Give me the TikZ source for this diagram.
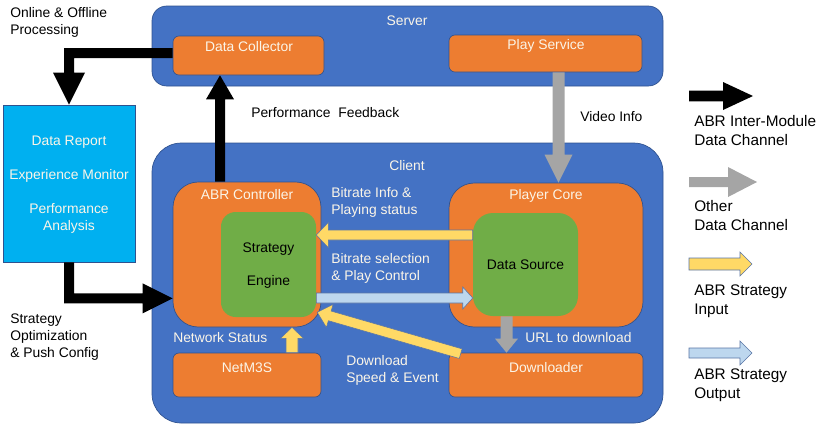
\documentclass[tikz,border=0pt]{standalone}
\usepackage{fontspec}
\setmainfont{Liberation Sans}
\usetikzlibrary{calc,fit}
\definecolor{cblue}{HTML}{4472C4}
\definecolor{cblueb}{HTML}{2F528F}
\definecolor{corange}{HTML}{ED7D31}
\definecolor{cgreen}{HTML}{70AD47}
\definecolor{cyellow}{HTML}{FFD966}
\definecolor{clblue}{HTML}{BDD7EE}
\definecolor{cgray}{HTML}{A5A5A5}
\definecolor{ccyan}{HTML}{00B0F0}
\definecolor{cwt}{HTML}{FBF5E8}
\newcommand\blockarrow[6][]{%
  \coordinate (bas) at (#2);
  \coordinate (bae) at (#3);
  \coordinate (bah) at ($(bae)!#6!(bas)$);
  \draw[#1] ($(bas)!#4!90:(bae)$) -- ($(bah)!#4!90:(bae)$) -- ($(bah)!#5!90:(bae)$)
    -- (bae) -- ($(bah)!#5!-90:(bae)$) -- ($(bah)!#4!-90:(bae)$) -- ($(bas)!#4!-90:(bae)$) -- cycle;}
\tikzset{
  region/.style={fill=cblue, draw=cblueb, line width=0.5pt, inner sep=0pt},
  obox/.style={fill=corange, draw=cblueb, line width=0.5pt, inner sep=0pt},
  gbox/.style={fill=cgreen, draw=none, inner sep=0pt},
  cbox/.style={fill=ccyan, draw=cblueb, line width=0.5pt, inner sep=0pt},
  wtxt/.style={text=cwt, font=\fontsize{10.4}{12.75}\selectfont, inner sep=0pt, align=center},
  ktxt/.style={text=black, font=\fontsize{10.4}{12.75}\selectfont, inner sep=0pt, align=left},
  lgtxt/.style={text=black, font=\fontsize{11.5}{14.25}\selectfont, inner sep=0pt, align=left, anchor=west},
  blk/.style={fill=black, draw=none},
  gry/.style={fill=cgray, draw=none},
  ylw/.style={fill=cyellow, draw=cblueb!80, line width=0.4pt},
  lbl/.style={fill=clblue, draw=cblueb!80, line width=0.4pt},
}
\begin{document}
\begin{tikzpicture}[x=0.75pt,y=-0.75pt]
\useasboundingbox (0,0) rectangle (832,426);
% regions
\node[region, rounded corners=11pt, fit={(152,6)(663,86)}] (srv) {};
\node[region, rounded corners=22pt, fit={(152,143)(663,423)}] (cli) {};
% server boxes
\node[obox, rounded corners=4.5pt, fit={(173,36)(324,75)}] (dc) {};
\node[obox, rounded corners=4.5pt, fit={(449,35)(642,72)}] (ps) {};
% client boxes
\node[obox, rounded corners=19pt, fit={(173,182)(321,327)}] (abr) {};
\node[gbox, rounded corners=11pt, fit={(221,212)(316,317)}] (se) {};
\node[obox, rounded corners=19pt, fit={(449,183)(643,327)}] (pc) {};
\node[gbox, rounded corners=15pt, fit={(473,213)(578,316)}] (ds) {};
\node[obox, rounded corners=4.5pt, fit={(173,353)(321,397)}] (nm) {};
\node[obox, rounded corners=4.5pt, fit={(449,353)(643,397)}] (dl) {};
% data report
\node[cbox, fit={(3,105)(135,262)}] (dr) {};

% ---- black elbow 1: Data Collector -> Data Report
\coordinate (e1a) at ($(dc.west)+(0,-7.5)$);
\coordinate (e1b) at ($(dc.west)+(0,2.5)$);
\coordinate (t1) at (dr.north);
\coordinate (c1) at (t1 |- e1a);
\fill[blk] (e1a) -- ($(c1)+(-5,0)$) -- ($(t1)+(-5,-32)$) -- ($(t1)+(-16,-32)$) -- (t1)
  -- ($(t1)+(16,-32)$) -- ($(t1)+(5,-32)$) -- ($(c1)+(5,10)$) -- (e1b) -- cycle;
% ---- black elbow 2: Data Report -> ABR Controller
\coordinate (t2) at ($(abr.south west)+(0,-29)$);
\coordinate (c2) at (dr.south |- t2);
\fill[blk] ($(dr.south)+(-5,0)$) -- ($(c2)+(-5,5)$) -- ($(t2)+(-30,5)$) -- ($(t2)+(-30,15)$) -- (t2)
  -- ($(t2)+(-30,-15)$) -- ($(t2)+(-30,-5)$) -- ($(c2)+(5,-5)$) -- ($(dr.south)+(5,0)$) -- cycle;
% ---- black up: ABR Controller -> Data Collector
\coordinate (a1s) at ($(abr.north)+(-27,0)$);
\coordinate (a1e) at (a1s |- dc.south);
\blockarrow[blk]{a1s}{a1e}{3.75pt}{10.5pt}{18pt}
% ---- gray: Play Service -> Player Core
\coordinate (v1s) at ($(ps.south)+(13,0)$);
\coordinate (v1e) at (v1s |- pc.north);
\blockarrow[gry]{v1s}{v1e}{4.5pt}{10.5pt}{21pt}
% ---- gray: Data Source -> Downloader
\coordinate (u1s) at ($(ds.south)+(-19,0)$);
\coordinate (u1e) at (u1s |- dl.north);
\blockarrow[gry]{u1s}{u1e}{4.5pt}{8.6pt}{10.5pt}
% ---- yellow: Data Source -> Strategy Engine
\coordinate (y1s) at ($(ds.west)+(0,-29.5)$);
\coordinate (y1e) at (y1s -| se.east);
\blockarrow[ylw]{y1s}{y1e}{3.75pt}{9.4pt}{9pt}
% ---- light blue: Strategy Engine -> Data Source
\coordinate (b1s) at ($(se.east)+(0,33.5)$);
\coordinate (b1e) at (b1s -| ds.west);
\blockarrow[lbl]{b1s}{b1e}{3.75pt}{8.25pt}{7.5pt}
% ---- yellow up: NetM3S -> ABR Controller
\coordinate (y2s) at ($(nm.north)+(45,0)$);
\coordinate (y2e) at (y2s |- abr.south);
\blockarrow[ylw]{y2s}{y2e}{4.5pt}{8.6pt}{8.25pt}
% ---- yellow diagonal: Downloader -> Strategy Engine
\coordinate (y3s) at ($(dl.north west)+(12,1)$);
\coordinate (y3e) at ($(se.south east)+(1,-5)$);
\blockarrow[ylw]{y3s}{y3e}{3.75pt}{9pt}{9.75pt}

% ---- texts
\node[wtxt] (srvt) at (407,21) {Server};
\node[wtxt] (clit) at (407,166) {Client};
\node[wtxt] (dct) at (249,47) {Data Collector};
\node[wtxt] (pst) at (546,46) {Play Service};
\node[wtxt] (abrt) at (247,195) {ABR Controller};
\node[wtxt] (pct) at (546,196) {Player Core};
\node[wtxt] (nmt) at (247,368) {NetM3S};
\node[wtxt] (dlt) at (546,368) {Downloader};
\node[ktxt, align=center, font=\fontsize{10.4}{24.75}\selectfont] (set) at (268.5,265.5) {Strategy\\Engine};
\node[ktxt] (dst) at (525.5,265) {Data Source};
\node[wtxt] (drt1) at (69,142) {Data Report};
\node[wtxt] (drt2) at (69,176) {Experience Monitor};
\node[wtxt] (drt3) at (69,218.5) {Performance\\Analysis};
\node[wtxt, align=left, anchor=west] (bit1) at (331,202.5) {Bitrate Info \&\\Playing status};
\node[wtxt, align=left, anchor=west] (bit2) at (331,268.5) {Bitrate selection\\\& Play Control};
\node[wtxt, align=left, anchor=west] (nst) at (173,338) {Network Status};
\node[wtxt, align=left, anchor=west] (urlt) at (525,338) {URL to download};
\node[wtxt, align=left, anchor=west] (dlst) at (346,370.5) {Download\\Speed \& Event};
\node[ktxt, anchor=west] (pft) at (251,113) {Performance~ Feedback};
\node[ktxt, anchor=west] (vit) at (580,117) {Video Info};
\node[ktxt, anchor=west] (oop) at (10,22.5) {Online \& Offline\\Processing};
\node[ktxt, anchor=west] (sop) at (10,337) {Strategy\\Optimization\\\& Push Config};

% ---- legend
\coordinate (l1s) at (689,96);  \coordinate (l1e) at (753,96);
\blockarrow[blk]{l1s}{l1e}{4.1pt}{10.5pt}{22.5pt}
\node[lgtxt] (l1t) at (694,130.5) {ABR Inter-Module\\Data Channel};
\coordinate (l2s) at (689,182); \coordinate (l2e) at (757,182);
\blockarrow[gry]{l2s}{l2e}{3.75pt}{11.25pt}{21.75pt}
\node[lgtxt] (l2t) at (694,215.5) {Other\\Data Channel};
\coordinate (l3s) at (689,264); \coordinate (l3e) at (752,264);
\blockarrow[ylw]{l3s}{l3e}{4.5pt}{9pt}{9pt}
\node[lgtxt] (l3t) at (694,301.5) {ABR Strategy\\Input};
\coordinate (l4s) at (689,353); \coordinate (l4e) at (752,353);
\blockarrow[lbl]{l4s}{l4e}{3.75pt}{9pt}{9pt}
\node[lgtxt] (l4t) at (694,385.5) {ABR Strategy\\Output};
\end{tikzpicture}
\end{document}
